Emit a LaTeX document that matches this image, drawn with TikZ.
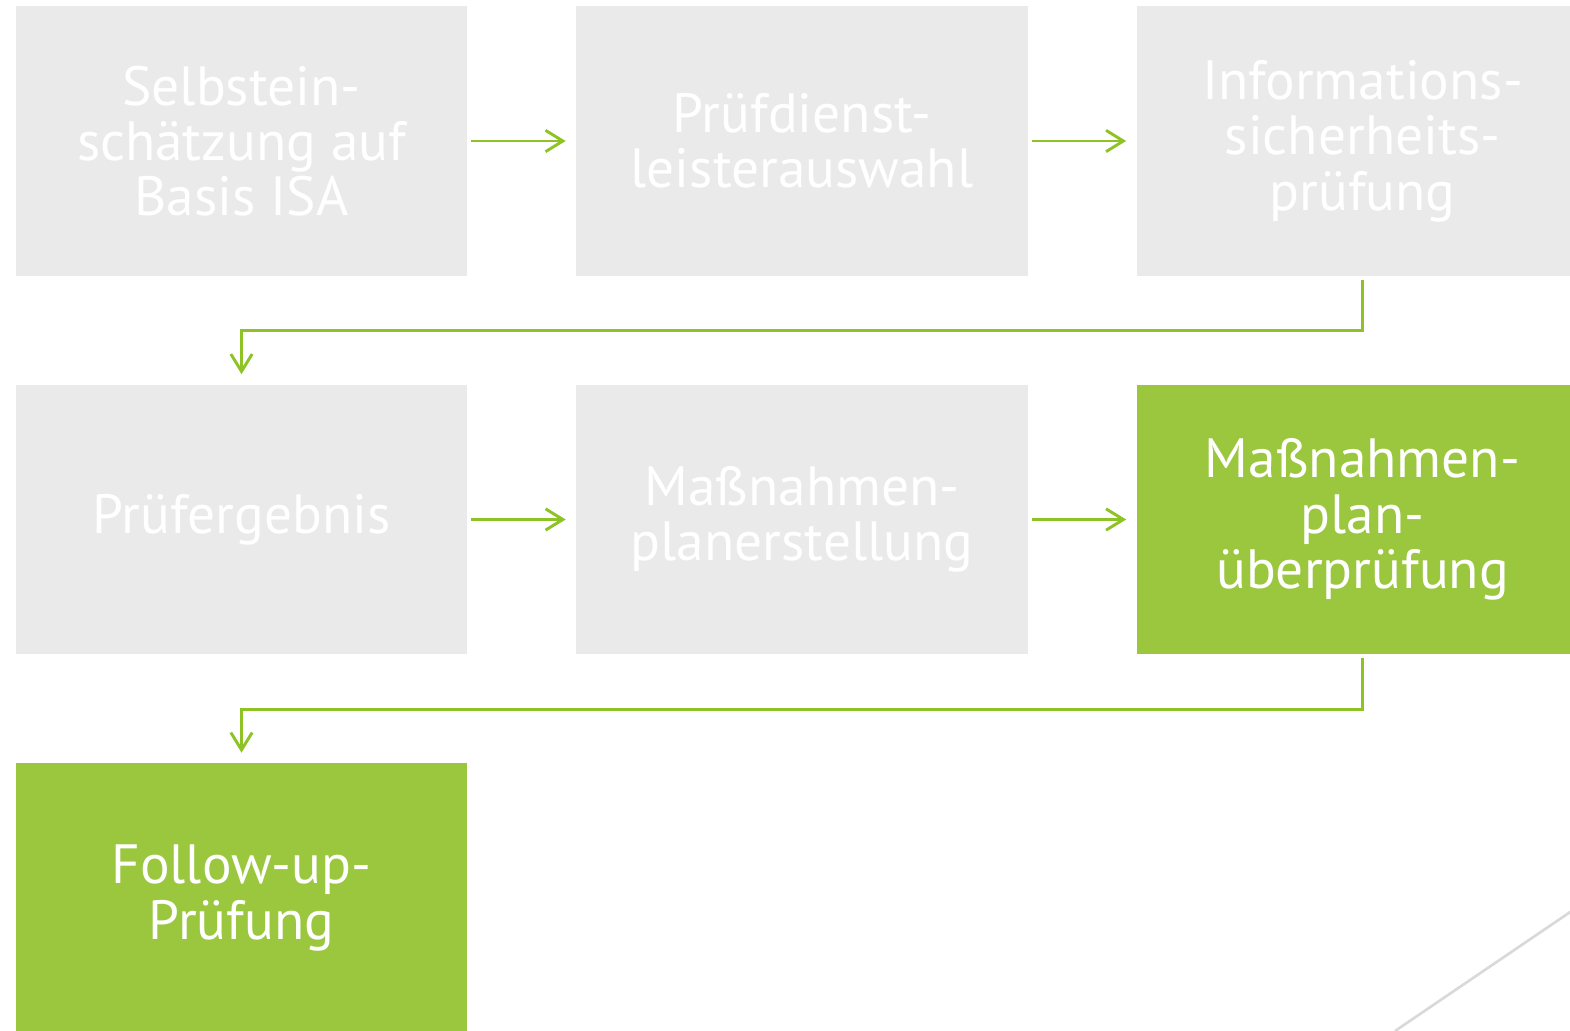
\documentclass[tikz,border=0pt]{standalone}
\usepackage{fontspec}
\setmainfont{PT Sans}
\usetikzlibrary{arrows.meta}

\definecolor{boxgray}{HTML}{EAEAEA}
\definecolor{boxgreen}{HTML}{9BC73F}
\definecolor{flowgreen}{HTML}{8DC325}
\definecolor{linegray}{HTML}{D9D9D9}

\tikzset{
  stepbox/.style={fill=boxgray, text=white, inner sep=0pt, outer sep=0pt,
    minimum width=338.5pt, minimum height=202pt, align=center,
    font=\fontsize{41.5}{41.5}\selectfont},
  activebox/.style={stepbox, fill=boxgreen},
  flow/.style={draw=flowgreen, line width=2.2pt,
    -{Straight Barb[length=13pt,width=16pt,line width=2.2pt]},
    shorten <=3pt, shorten >=8pt}
}

\begin{document}
\begin{tikzpicture}[x=0.75pt,y=0.75pt,yscale=-1,xscale=1]
\useasboundingbox (0,0) rectangle (1570,1031);
\clip (0,0) rectangle (1570,1031);

% first row
\node[stepbox] (selbst) at (241.5,141) {Selbstein-\\schätzung auf\\Basis ISA};
\node[stepbox] (auswahl) at (802,141) {Prüfdienst-\\leisterauswahl};
\node[stepbox] (pruef) at (1362.5,141) {Informations-\\sicherheits-\\prüfung};

% second row
\node[stepbox] (ergebnis) at (241.5,519.5) {Prüfergebnis};
\node[stepbox] (planerst) at (802,519.5) {Maßnahmen-\\planerstellung};
\node[activebox] (planpruef) at (1362.5,519.5) {Maßnahmen-\\plan-\\überprüfung};

% third row
\node[activebox] (followup) at (241.5,898) {Follow-up-\\Prüfung};

% connectors
\draw[flow] (selbst) -- (auswahl);
\draw[flow] (auswahl) -- (pruef);
\draw[flow] (pruef.south) -- ++(0,55) -| (ergebnis.north);
\draw[flow] (ergebnis) -- (planerst);
\draw[flow] (planerst) -- (planpruef);
\draw[flow] (planpruef.south) -- ++(0,55) -| (followup.north);

% corner line
\draw[linegray, line width=2pt] (1395,1031) -- (1660,851);

\end{tikzpicture}
\end{document}
